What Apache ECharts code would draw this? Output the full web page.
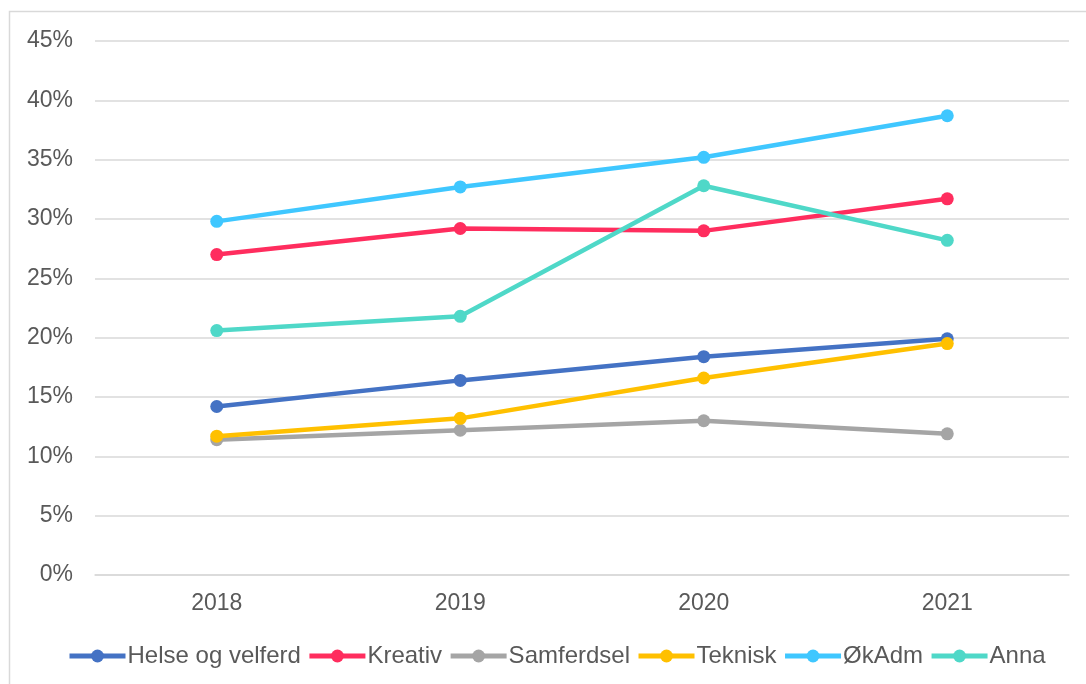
<!DOCTYPE html>
<html>
<head>
<meta charset="utf-8">
<script src="https://cdn.jsdelivr.net/npm/echarts@6/dist/echarts.min.js"></script>
<style>
  html, body { margin: 0; padding: 0; background: #fff; }
  #chart { width: 1086px; height: 684px; }
</style>
</head>
<body>
<div id="chart"></div>
<script>
// data (percent)
var years = ['2018', '2019', '2020', '2021']
var helse = [14.2, 16.4, 18.4, 19.9]
var kreativ = [27.0, 29.2, 29.0, 31.7]
var samferdsel = [11.4, 12.2, 13.0, 11.9]
var teknisk = [11.7, 13.2, 16.6, 19.5]
var okadm = [29.8, 32.7, 35.2, 38.7]
var anna = [20.6, 21.8, 32.8, 28.2]

var names = ['Helse og velferd', 'Kreativ', 'Samferdsel', 'Teknisk', 'ØkAdm', 'Anna']
var colors = ['#4472C4', '#FF2D5E', '#A5A5A5', '#FFC000', '#3FC7FF', '#4FD8C8']
var values = [helse, kreativ, samferdsel, teknisk, okadm, anna]

var chart = echarts.init(document.getElementById('chart'))

var series = names.map(function (n, i) {
  return {
    name: n,
    type: 'line',
    data: values[i],
    symbol: 'circle',
    symbolSize: 13,
    lineStyle: { width: 4.5, color: colors[i] },
    itemStyle: { color: colors[i] },
    z: 2 + i
  }
})

chart.setOption({
  animation: false,
  textStyle: { fontFamily: '"Liberation Sans", Arial, sans-serif' },
  graphic: [{
    type: 'rect',
    shape: { x: 9.5, y: 11.5, width: 1090, height: 700 },
    style: { fill: 'none', stroke: '#d9d9d9', lineWidth: 1.5 },
    silent: true
  }],
  grid: { left: 95, right: 17, top: 41, bottom: 109, containLabel: false },
  xAxis: {
    type: 'category',
    data: years,
    boundaryGap: true,
    axisLine: { show: true, lineStyle: { color: '#d9d9d9', width: 1.5 } },
    axisTick: { show: false },
    axisLabel: { color: '#595959', fontSize: 23, margin: 17 }
  },
  yAxis: {
    type: 'value',
    min: 0,
    max: 45,
    interval: 5,
    axisLine: { show: false },
    axisTick: { show: false },
    splitLine: { lineStyle: { color: '#d9d9d9', width: 1.5 } },
    axisLabel: {
      color: '#595959',
      fontSize: 23,
      margin: 22,
      formatter: function (v) { return v + '%' }
    }
  },
  legend: {
    bottom: 11,
    left: 62,
    itemWidth: 56,
    itemHeight: 16,
    itemGap: 6,
    lineStyle: { width: 5 },
    textStyle: { color: '#595959', fontSize: 24, padding: [0, 0, 0, -3] },
    data: names
  },
  series: series
})
</script>
</body>
</html>
